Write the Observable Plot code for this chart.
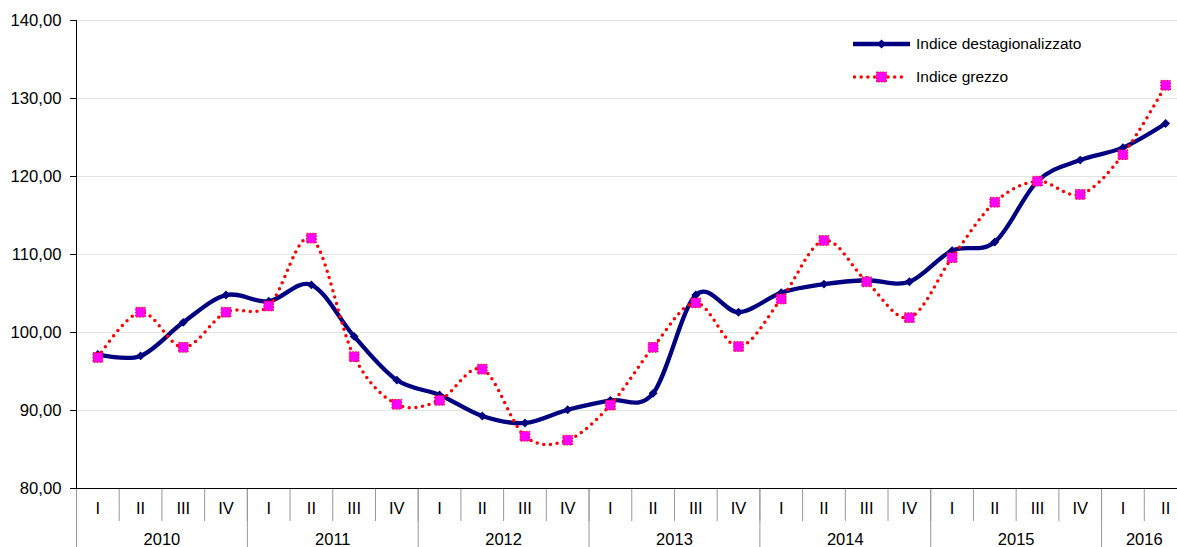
<!DOCTYPE html>
<html><head><meta charset="utf-8">
<script src="https://cdn.jsdelivr.net/npm/d3@7"></script>
<script src="https://cdn.jsdelivr.net/npm/@observablehq/plot@0.6"></script>
<style>
html,body{margin:0;padding:0;background:#fff;overflow:hidden;}
#wrap{position:relative;width:1177px;height:547px;font-family:"Liberation Sans",Arial,sans-serif;}
.leg{position:absolute;left:853px;height:20px;display:flex;align-items:center;font-size:15.5px;color:#000;white-space:nowrap;}
.leg svg{display:block;}
</style></head><body><div id="wrap"></div>
<script>
const quarters = ["I","II","III","IV","I","II","III","IV","I","II","III","IV","I","II","III","IV","I","II","III","IV","I","II","III","IV","I","II"];
const years = ["2010","2011","2012","2013","2014","2015","2016"];
const quartersPerYear = [4,4,4,4,4,4,2];
const seriesNames = ["Indice destagionalizzato","Indice grezzo"];
const destag = [97.2,97.0,101.3,104.8,104.0,106.1,99.5,93.9,92.0,89.3,88.4,90.1,91.3,92.2,104.8,102.6,105.1,106.2,106.7,106.5,110.5,111.6,119.4,122.1,123.7,126.8];
const grezzo = [96.8,102.6,98.1,102.6,103.4,112.1,96.9,90.8,91.3,95.3,86.7,86.2,90.7,98.1,103.8,98.2,104.3,111.8,106.5,101.9,109.6,116.7,119.4,117.7,122.8,131.7];
const yTicks = [80,90,100,110,120,130,140];

const rows = quarters.map((q,i)=>({i:i+0.5,q,d:destag[i],g:grezzo[i]}));
const yearStarts = [], yearCenters = [];
let acc = 0;
quartersPerYear.forEach(n=>{yearStarts.push(acc); yearCenters.push(acc+n/2); acc+=n;});
yearStarts.push(acc);
const yearLabel = new Map(yearCenters.map((c,k)=>[c,years[k]]));
const NAVY = "#000080";

const chart = Plot.plot({
  width:1177, height:547,
  marginTop:20, marginBottom:59, marginLeft:76, marginRight:0,
  style:{fontFamily:"Liberation Sans, Arial, sans-serif", fontSize:"16.5px", color:"#000", background:"#fff", overflow:"visible"},
  x:{type:"linear", domain:[0,26], range:[76,1186.5], axis:null},
  y:{domain:[80,140], range:[488,20], axis:null},
  marks:[
    Plot.gridY(yTicks.slice(1), {stroke:"#e3e3e3", strokeOpacity:1}),
    Plot.axisY(yTicks, {tickSize:6, tickPadding:9, label:null, stroke:"#000", fontSize:16.7, tickFormat:d=>d.toFixed(2).replace(".",",")}),
    Plot.axisX(d3.range(0,27), {tickSize:33, label:null, stroke:"#999", tickFormat:()=>""}),
    Plot.axisX(yearStarts, {tickSize:59, label:null, stroke:"#999", tickFormat:()=>""}),
    Plot.axisX(rows.map(r=>r.i), {tickSize:0, tickPadding:14, label:null, fontSize:16.5, tickFormat:d=>quarters[Math.floor(d)]}),
    Plot.axisX(yearCenters, {tickSize:0, tickPadding:45, label:null, fontSize:16.5, tickFormat:d=>yearLabel.get(d)}),
    Plot.ruleX([0], {stroke:"#000"}),
    Plot.ruleY([80], {stroke:"#000"}),
    Plot.line(rows, {x:"i", y:"d", curve:"cardinal", stroke:NAVY, strokeWidth:4.3}),
    Plot.dot(rows, {x:"i", y:"d", symbol:"diamond2", r:4, fill:NAVY}),
    Plot.line(rows, {x:"i", y:"g", curve:"cardinal", stroke:"#ff0000", strokeWidth:3.5, strokeDasharray:"0 6.7", strokeLinecap:"round"}),
    Plot.dot(rows, {x:"i", y:"g", symbol:"square", r:5.5, fill:"#ff00ff", stroke:"#ff0000", strokeWidth:1, strokeDasharray:"1.5 1.5"})
  ]
});
const wrap = document.getElementById("wrap");
wrap.appendChild(chart);

const leg1 = document.createElement("div");
leg1.className = "leg"; leg1.style.top = "34px";
leg1.innerHTML = `<svg width="63" height="20"><line x1="0" x2="57" y1="10" y2="10" stroke="${NAVY}" stroke-width="4.3"/><path d="M28.5,5.5L33,10L28.5,14.5L24,10Z" fill="${NAVY}"/></svg><span>${seriesNames[0]}</span>`;
wrap.appendChild(leg1);
const leg2 = document.createElement("div");
leg2.className = "leg"; leg2.style.top = "67px";
leg2.innerHTML = `<svg width="63" height="20"><line x1="1.5" x2="55" y1="10" y2="10" stroke="#ff0000" stroke-width="3.5" stroke-dasharray="0 6.7" stroke-linecap="round"/><rect x="23.5" y="5" width="10" height="10" fill="#ff00ff" stroke="#ff0000" stroke-width="1" stroke-dasharray="1.5 1.5"/></svg><span>${seriesNames[1]}</span>`;
wrap.appendChild(leg2);
</script></body></html>
